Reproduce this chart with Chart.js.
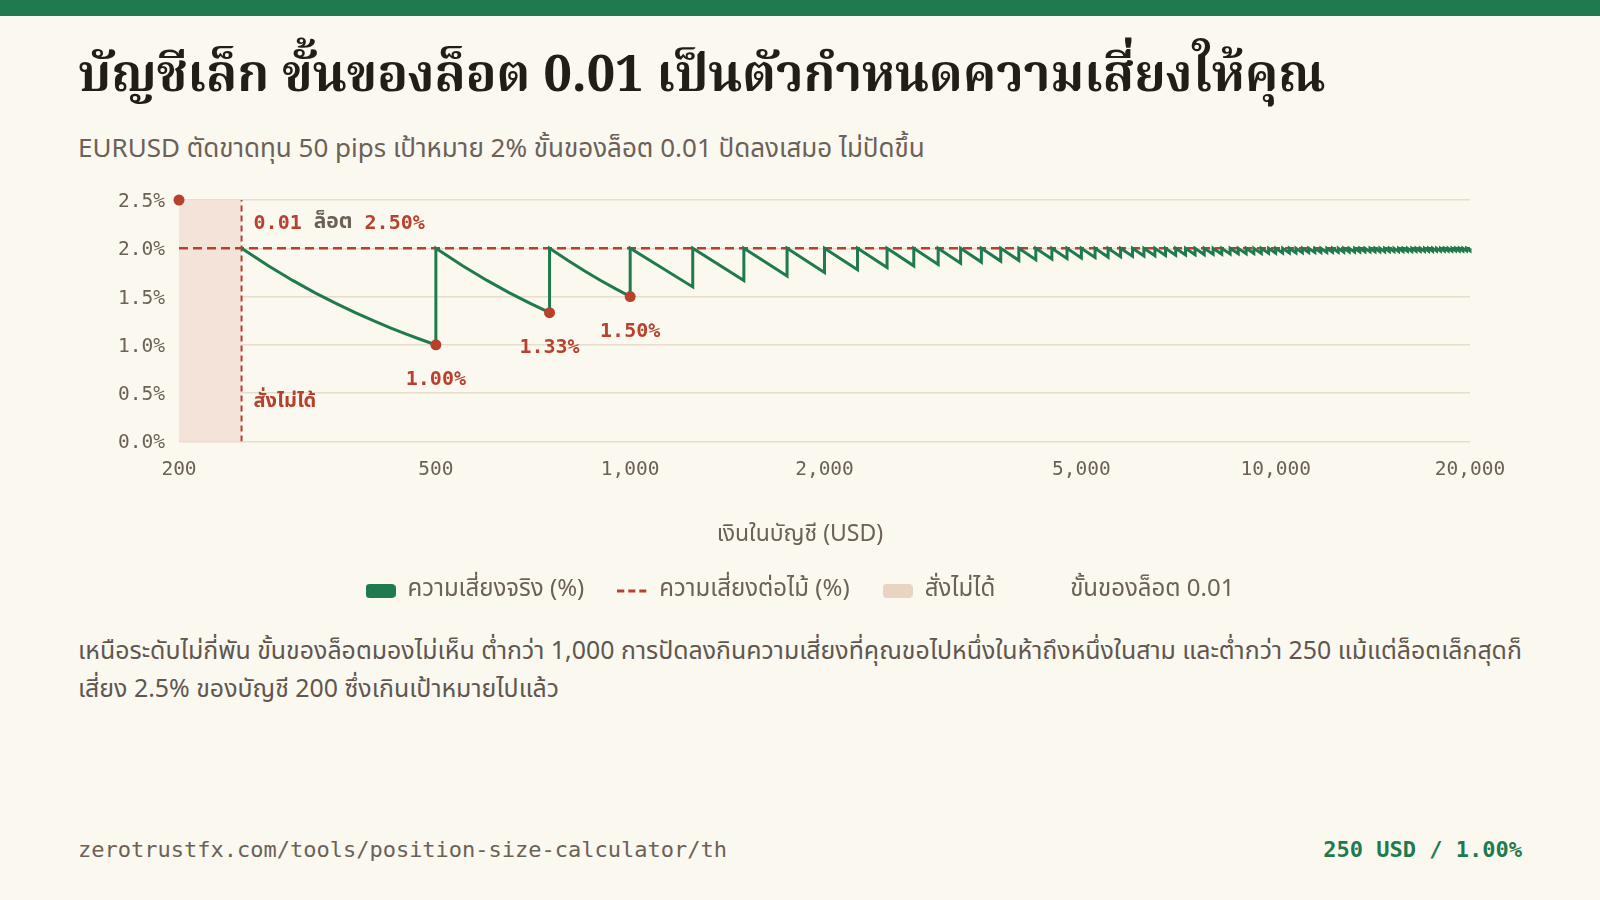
<!DOCTYPE html>
<html lang="th">
<head>
<meta charset="utf-8">
<title>บัญชีเล็ก ขั้นของล็อต 0.01</title>
<script src="https://cdn.jsdelivr.net/npm/chart.js@4.4.1/dist/chart.umd.min.js"></script>
<style>
  html, body { margin: 0; padding: 0; }
  body {
    width: 1600px; height: 900px; overflow: hidden; position: relative;
    background: #fbf8f0;
    font-family: "Noto Sans Thai", "Noto Sans", "Open Sans", sans-serif;
  }
  .topbar { position: absolute; left: 0; top: 0; width: 1600px; height: 16px; background: #1f7a4f; }
  h1 {
    position: absolute; left: 78px; top: 46px; margin: 0;
    font-family: "Noto Serif Thai", "Noto Serif", "DejaVu Serif", serif;
    font-size: 50.7px; line-height: 64px; font-weight: 700; color: #221d17;
    white-space: nowrap;
  }
  .sub {
    position: absolute; left: 78px; top: 131px; margin: 0;
    font-size: 26px; line-height: 36px; color: #6b6157; white-space: nowrap;
  }
  #wrap { position: absolute; left: 78px; top: 180px; width: 1444px; height: 433px; }
  .note {
    position: absolute; left: 78px; top: 633px; width: 1446px; margin: 0;
    font-size: 24.9px; line-height: 38px; color: #5f574f;
  }
  .foot {
    position: absolute; left: 78px; right: 78px; top: 835px; height: 30px;
    font-family: "DejaVu Sans Mono", monospace; font-size: 22px; line-height: 30px;
  }
  .foot .url { color: #6b6157; }
  .foot .stat { position: absolute; right: 0; top: 0; color: #1f7a4f; font-weight: 700; }
</style>
</head>
<body>
<div class="topbar"></div>
<h1>บัญชีเล็ก ขั้นของล็อต 0.01 เป็นตัวกำหนดความเสี่ยงให้คุณ</h1>
<p class="sub">EURUSD ตัดขาดทุน 50 pips เป้าหมาย 2% ขั้นของล็อต 0.01 ปัดลงเสมอ ไม่ปัดขึ้น</p>
<div id="wrap"><canvas id="riskChart" width="1444" height="433"></canvas></div>
<p class="note">เหนือระดับไม่กี่พัน ขั้นของล็อตมองไม่เห็น ต่ำกว่า 1,000 การปัดลงกินความเสี่ยงที่คุณขอไปหนึ่งในห้าถึงหนึ่งในสาม และต่ำกว่า 250 แม้แต่ล็อตเล็กสุดก็เสี่ยง 2.5% ของบัญชี 200 ซึ่งเกินเป้าหมายไปแล้ว</p>
<div class="foot"><span class="url">zerotrustfx.com/tools/position-size-calculator/th</span><span class="stat">250 USD / 1.00%</span></div>

<script>
// balance where a new 0.01 lot step becomes affordable (risk jumps back to target)
var stepBalance = [250, 500, 750, 1000, 1250, 1500, 1750, 2000, 2250, 2500,
  2750, 3000, 3250, 3500, 3750, 4000, 4250, 4500, 4750, 5000,
  5250, 5500, 5750, 6000, 6250, 6500, 6750, 7000, 7250, 7500,
  7750, 8000, 8250, 8500, 8750, 9000, 9250, 9500, 9750, 10000,
  10250, 10500, 10750, 11000, 11250, 11500, 11750, 12000, 12250, 12500,
  12750, 13000, 13250, 13500, 13750, 14000, 14250, 14500, 14750, 15000,
  15250, 15500, 15750, 16000, 16250, 16500, 16750, 17000, 17250, 17500,
  17750, 18000, 18250, 18500, 18750, 19000, 19250, 19500, 19750, 20000];
// actual risk (%) just before each step
var riskBeforeStep = [null, 1.000, 1.333, 1.500, 1.600, 1.667, 1.714, 1.750, 1.778, 1.800,
  1.818, 1.833, 1.846, 1.857, 1.867, 1.875, 1.882, 1.889, 1.895, 1.900,
  1.905, 1.909, 1.913, 1.917, 1.920, 1.923, 1.926, 1.929, 1.931, 1.933,
  1.935, 1.938, 1.939, 1.941, 1.943, 1.944, 1.946, 1.947, 1.949, 1.950,
  1.951, 1.952, 1.953, 1.955, 1.956, 1.957, 1.957, 1.958, 1.959, 1.960,
  1.961, 1.962, 1.962, 1.963, 1.964, 1.964, 1.965, 1.966, 1.966, 1.967,
  1.967, 1.968, 1.968, 1.969, 1.969, 1.970, 1.970, 1.971, 1.971, 1.971,
  1.972, 1.972, 1.973, 1.973, 1.973, 1.974, 1.974, 1.974, 1.975, 1.975];
// extra points on the first three (curved) teeth
var curveBalance = [275, 300, 325, 350, 375, 400, 425, 450, 475, 550, 600, 650, 700, 800, 850, 900, 950];
var curveRisk = [1.818, 1.667, 1.538, 1.429, 1.333, 1.250, 1.176, 1.111, 1.053, 1.818, 1.667, 1.538, 1.429, 1.875, 1.765, 1.667, 1.579];

var targetRisk = 2.0;
var markerBalance = [200, 500, 750, 1000];
var markerRisk = [2.5, 1.00, 1.333, 1.50];
var blockedBalance = [200, 250];
var blockedTop = 2.5;

var xTicks = [200, 500, 1000, 2000, 5000, 10000, 20000];
var yMax = 2.5;

var GREEN = '#1f7a4f';
var RED = '#b7412d';
var GREY = '#6b6157';
var MONO = '"DejaVu Sans Mono", monospace';
var SANS = '"Noto Sans Thai", "Noto Sans", sans-serif';

// build the actual-risk line
var actual = [];
stepBalance.forEach(function (b, i) {
  if (riskBeforeStep[i] !== null) actual.push({x: b, y: riskBeforeStep[i]});
  actual.push({x: b, y: targetRisk});
  var next = stepBalance[i + 1] || Infinity;
  curveBalance.forEach(function (c, j) {
    if (c > b && c < next) actual.push({x: c, y: curveRisk[j]});
  });
});

function swatch(draw) {
  var c = document.createElement('canvas');
  c.width = 30; c.height = 14;
  draw(c.getContext('2d'));
  return c;
}
function roundBox(color) {
  return swatch(function (ctx) {
    ctx.fillStyle = color;
    ctx.beginPath();
    ctx.roundRect(0, 0, 30, 14, 4);
    ctx.fill();
  });
}
var dashSwatch = swatch(function (ctx) {
  ctx.strokeStyle = RED; ctx.lineWidth = 3;
  ctx.setLineDash([7, 4]);
  ctx.beginPath(); ctx.moveTo(0, 7); ctx.lineTo(30, 7); ctx.stroke();
});
var swatches = [roundBox(GREEN), dashSwatch, roundBox('#e8d4c2'), null];

var labelPlugin = {
  id: 'labels',
  afterDatasetsDraw: function (chart) {
    var ctx = chart.ctx, xs = chart.scales.x, ys = chart.scales.y;
    ctx.save();
    ctx.textBaseline = 'middle';
    ctx.fillStyle = RED;
    ctx.font = 'bold 20px ' + MONO;
    ctx.textAlign = 'center';
    for (var i = 1; i < markerBalance.length; i++) {
      ctx.fillText(markerRisk[i].toFixed(2) + '%', xs.getPixelForValue(markerBalance[i]), ys.getPixelForValue(markerRisk[i]) + 35);
    }
    // min lot note next to the blocked zone
    ctx.textAlign = 'left';
    var x = xs.getPixelForValue(blockedBalance[1]) + 12;
    var y = ys.getPixelForValue(markerRisk[0]) + 24;
    var parts = [['0.01 ', RED, 'bold 20px ' + MONO], ['ล็อต', GREY, 'bold 21px ' + SANS], [' ' + markerRisk[0].toFixed(2) + '%', RED, 'bold 20px ' + MONO]];
    parts.forEach(function (p) {
      ctx.font = p[2]; ctx.fillStyle = p[1];
      ctx.fillText(p[0], x, y);
      x += ctx.measureText(p[0]).width;
    });
    ctx.font = 'bold 20px ' + SANS;
    ctx.fillStyle = RED;
    ctx.fillText('สั่งไม่ได้', xs.getPixelForValue(blockedBalance[1]) + 12, ys.getPixelForValue(0.5) + 10);
    ctx.restore();
  }
};

new Chart(document.getElementById('riskChart'), {
  type: 'line',
  data: {
    datasets: [{
      label: 'ความเสี่ยงจริง (%)',
      data: actual,
      borderColor: GREEN,
      backgroundColor: GREEN,
      borderWidth: 3,
      pointRadius: 0,
      tension: 0,
      clip: false,
      order: 1
    }, {
      label: 'ความเสี่ยงต่อไม้ (%)',
      data: [{x: xTicks[0], y: targetRisk}, {x: xTicks[xTicks.length - 1], y: targetRisk}],
      borderColor: RED,
      borderWidth: 2.5,
      borderDash: [9, 5],
      pointRadius: 0,
      order: 2
    }, {
      label: 'สั่งไม่ได้',
      data: [{x: blockedBalance[0], y: blockedTop}, {x: blockedBalance[1], y: blockedTop}],
      fill: 'origin',
      backgroundColor: '#f3e3d8',
      borderWidth: 0,
      pointRadius: 0,
      order: 3
    }, {
      label: 'ขั้นของล็อต 0.01',
      data: markerBalance.map(function (b, i) { return {x: b, y: markerRisk[i]}; }),
      showLine: false,
      pointRadius: 5.5,
      pointBackgroundColor: RED,
      pointBorderWidth: 0,
      clip: false,
      order: 0
    }, {
      label: 'min-lot',
      data: [{x: blockedBalance[1], y: 0}, {x: blockedBalance[1], y: blockedTop}],
      borderColor: RED,
      borderWidth: 2,
      borderDash: [6, 4],
      pointRadius: 0,
      order: 2
    }]
  },
  options: {
    responsive: false,
    animation: false,
    devicePixelRatio: 1,
    layout: { padding: { top: 20, right: 0, bottom: 0, left: 0 } },
    scales: {
      x: {
        type: 'logarithmic',
        min: xTicks[0],
        max: xTicks[xTicks.length - 1],
        grid: { display: false, drawTicks: false },
        border: { display: false },
        afterBuildTicks: function (scale) {
          scale.ticks = xTicks.map(function (v) { return {value: v}; });
        },
        afterFit: function (scale) {
          scale.paddingLeft = 0; scale.paddingRight = 52;
          scale.height = 40;
        },
        ticks: {
          autoSkip: false, maxRotation: 0, padding: 17,
          color: GREY, font: { family: MONO, size: 19.5 },
          callback: function (v) { return Number(v).toLocaleString('en-US'); }
        }
      },
      y: {
        min: 0,
        max: yMax,
        grid: { color: '#e6ddcc', lineWidth: 1.5, drawTicks: false },
        border: { display: false },
        afterFit: function (scale) {
          scale.width = 101;
          scale.paddingTop = 0; scale.paddingBottom = 0;
        },
        ticks: {
          stepSize: 0.5, padding: 14, labelOffset: 2,
          color: GREY, font: { family: MONO, size: 19.5 },
          callback: function (v) { return v.toFixed(1) + '%'; }
        }
      }
    },
    plugins: {
      tooltip: { enabled: false },
      legend: {
        position: 'bottom',
        title: {
          display: true,
          text: 'เงินในบัญชี (USD)',
          color: GREY,
          font: { family: SANS, size: 23 },
          padding: { top: 43, bottom: -6 }
        },
        labels: {
          usePointStyle: true,
          pointStyleWidth: 30,
          boxHeight: 14,
          padding: 33,
          color: GREY,
          font: { family: SANS, size: 24 },
          generateLabels: function (chart) {
            var items = Chart.defaults.plugins.legend.labels.generateLabels(chart);
            items = items.filter(function (it) { return it.datasetIndex < 4; });
            items.sort(function (a, b) { return a.datasetIndex - b.datasetIndex; });
            items.forEach(function (it) {
              var s = swatches[it.datasetIndex];
              it.pointStyle = s || 'circle';
              it.lineWidth = 0;
              it.lineDash = [];
              if (!s) { it.fillStyle = 'rgba(0,0,0,0)'; it.strokeStyle = 'rgba(0,0,0,0)'; }
            });
            return items;
          }
        }
      }
    }
  },
  plugins: [labelPlugin]
});
</script>
</body>
</html>
